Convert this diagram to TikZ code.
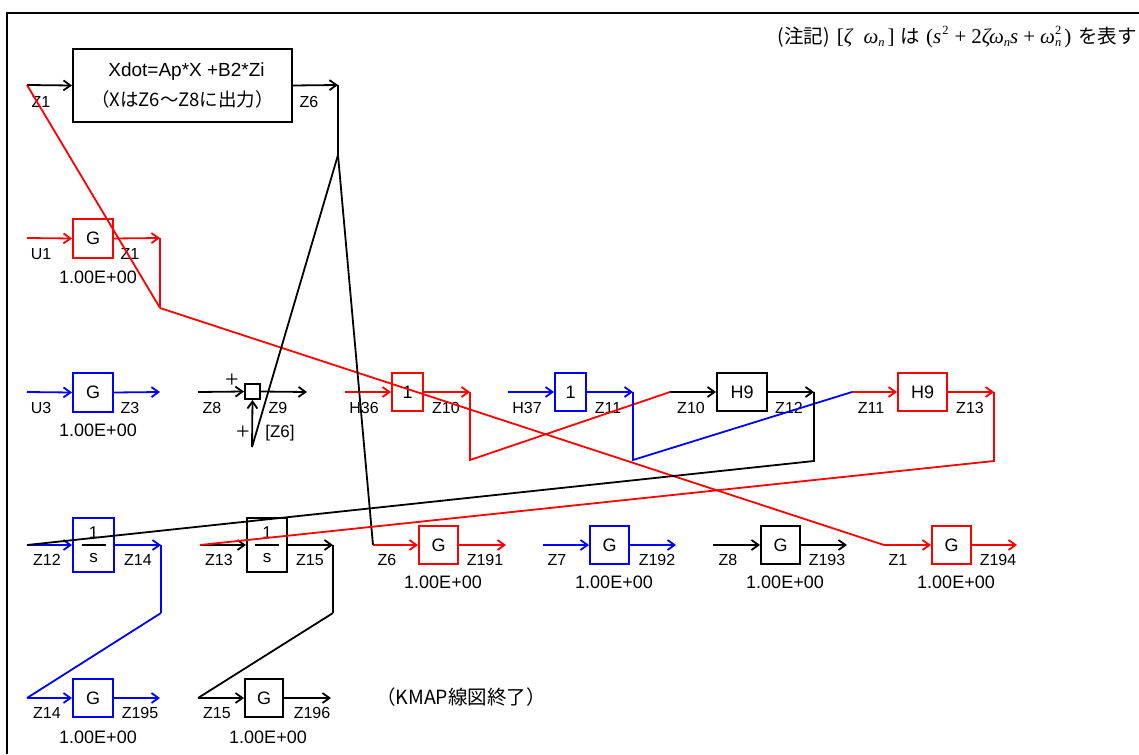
\documentclass[tikz,border=0pt]{standalone}
\usepackage{fontspec}
\setmainfont{Liberation Sans}
\newfontfamily\jp{Noto Sans CJK JP}
\newfontfamily\plusfont{Liberation Serif}
\usetikzlibrary{arrows.meta}
\definecolor{kr}{RGB}{255,0,0}
\definecolor{kb}{RGB}{0,0,255}
\newcommand{\subn}{\raisebox{-3.5pt}{\fontsize{12.5}{12.5}\selectfont\itshape n}}
\newcommand{\supt}{\raisebox{9pt}{\fontsize{12.5}{12.5}\selectfont 2}}
\begin{document}
\begin{tikzpicture}[x=1pt,y=-1pt,
  arr/.style={-{Straight Barb[length=7pt,width=10pt]}},
  conn/.style={line width=1.8pt},
  blk/.style={draw, line width=2pt, minimum width=40pt, minimum height=39pt, inner sep=0pt, font=\fontsize{18}{18}\selectfont},
  lbl/.style={font=\fontsize{16}{16}\selectfont, inner sep=0pt},
  val/.style={font=\fontsize{18}{18}\selectfont, inner sep=0pt},
  pls/.style={font=\plusfont\fontsize{24}{24}\selectfont, inner sep=0pt}]
\useasboundingbox (0,0) rectangle (1139,754);
% frame
\draw[line width=2pt] (7,754) -- (7,13) -- (1139,13);
% note
\node[anchor=east, font=\fontsize{19.5}{19.5}\selectfont, inner sep=0pt] (note) at (1137,37)
  {{\jp (注記)}\hspace{7pt}{\plusfont\fontsize{21}{21}\selectfont [\textit{ζ}\hspace{10pt}\textit{ω}\subn\hspace{3pt}]}\hspace{6pt}{\jp は}\hspace{6pt}%
   {\plusfont\fontsize{21}{21}\selectfont (\textit{s}\hspace{1pt}\supt\hspace{6pt}+\hspace{5pt}2\textit{ζω}\subn\textit{s}\hspace{5pt}+\hspace{5pt}\textit{ω}\makebox[0pt][l]{\subn}\supt\hspace{3pt})}\hspace{7pt}%
   {\jp を表す}};

% ---------- top block ----------
\node[draw, line width=2pt, minimum width=219pt, minimum height=73pt, align=center,
      font=\fontsize{19}{30}\selectfont] (xb) at (182.5,85.5)
  {\hspace*{8pt}Xdot=Ap*X +B2*Zi\\ {\jp\fontsize{18.5}{30}\selectfont （XはZ6〜Z8に出力）}};
\coordinate (xin) at (27,85);
\coordinate (xout) at (338,85);
\coordinate (xbr) at (338,155);
\draw[conn,arr] (xin) -- (xb.west);
\draw[conn,arr] (xb.east) -- (xout);
\draw[conn] (xout) -- (xbr);
\node[lbl] (l1) at (41,102) {Z1};
\node[lbl] (l2) at (309,102) {Z6};

% ---------- row 2 ----------
\node[blk, kr] (g1) at (93,238.5) {\color{black}G};
\coordinate (g1in) at (27,238);
\coordinate (g1out) at (160,238);
\coordinate (g1br) at (160,308);
\draw[conn,kr,arr] (g1in) -- (g1.west);
\draw[conn,kr,arr] (g1.east) -- (g1out);
\draw[conn,kr] (g1out) -- (g1br);
\node[lbl] (l3) at (41,254) {U1};
\node[lbl] (l4) at (130,254) {Z1};
\node[val] (v1) at (98,277) {1.00E+00};

% ---------- row 3 ----------
\node[blk, kb] (g3) at (93,392.5) {\color{black}G};
\coordinate (g3in) at (27,392);
\coordinate (g3out) at (160,392);
\draw[conn,kb,arr] (g3in) -- (g3.west);
\draw[conn,kb,arr] (g3.east) -- (g3out);
\node[lbl] (l5) at (41,408) {U3};
\node[lbl] (l6) at (130,408) {Z3};
\node[val] (v3) at (98,430) {1.00E+00};

% summing junction
\node[draw, line width=2pt, minimum size=15pt, inner sep=0pt] (sum) at (252.5,391.5) {};
\coordinate (z8in) at (198,392);
\coordinate (z9out) at (307,392);
\coordinate (z6s) at (252,447);
\draw[conn,arr] (z8in) -- (sum.west);
\draw[conn,arr] (sum.east) -- (z9out);
\draw[conn,arr] (z6s) -- (sum.south);
\node[pls] (p1) at (232,381) {+};
\node[pls] (p2) at (243,433) {+};
\node[lbl] (l7) at (212,408) {Z8};
\node[lbl] (l8) at (278,408) {Z9};
\node[lbl, font=\fontsize{17}{17}\selectfont] (l9) at (280,433) {[Z6]};

% gain 1 red
\node[blk, kr, minimum width=31pt, minimum height=38pt] (k1) at (407.5,392) {\color{black}1};
\coordinate (k1in) at (345,392);
\coordinate (k1out) at (470,392);
\coordinate (k1b) at (470,460);
\draw[conn,kr,arr] (k1in) -- (k1.west);
\draw[conn,kr,arr] (k1.east) -- (k1out);
\node[lbl] (l10) at (364,408) {H36};
\node[lbl] (l11) at (446,408) {Z10};

% gain 1 blue
\node[blk, kb, minimum width=31pt, minimum height=38pt] (k2) at (570.5,392) {\color{black}1};
\coordinate (k2in) at (508,392);
\coordinate (k2out) at (633,392);
\coordinate (k2b) at (633,460);
\draw[conn,kb,arr] (k2in) -- (k2.west);
\draw[conn,kb,arr] (k2.east) -- (k2out);
\node[lbl] (l12) at (527,408) {H37};
\node[lbl] (l13) at (608,408) {Z11};

% H9 black
\node[blk, minimum width=50pt, minimum height=38pt] (h1) at (742,392) {H9};
\coordinate (h1in) at (670,392);
\coordinate (h1out) at (814,392);
\coordinate (h1b) at (814,461);
\draw[conn,arr] (h1in) -- (h1.west);
\draw[conn,arr] (h1.east) -- (h1out);
\node[lbl] (l14) at (691,408) {Z10};
\node[lbl] (l15) at (789,408) {Z12};

% H9 red
\node[blk, kr, minimum width=49pt, minimum height=38pt] (h2) at (922.5,392) {\color{black}H9};
\coordinate (h2in) at (852,392);
\coordinate (h2out) at (994,392);
\coordinate (h2b) at (994,461);
\draw[conn,kr,arr] (h2in) -- (h2.west);
\draw[conn,kr,arr] (h2.east) -- (h2out);
\node[lbl] (l16) at (871,408) {Z11};
\node[lbl] (l17) at (970,408) {Z13};

% ---------- row 4 ----------
% 1/s blue
\node[blk, kb, minimum width=41pt, minimum height=54pt] (s1) at (93.5,545) {};
\node[lbl, font=\fontsize{17}{17}\selectfont] (s1n) at ([yshift=12pt]s1.center) {1};
\node[lbl, font=\fontsize{17}{17}\selectfont] (s1d) at ([yshift=-13pt]s1.center) {s};
\draw[line width=1.4pt] ([xshift=-12pt]s1.center) -- ([xshift=12pt]s1.center);
\coordinate (s1in) at (27,545);
\coordinate (s1out) at (161,545);
\coordinate (s1b) at (161,613);
\draw[conn,kb,arr] (s1in) -- (s1.west);
\draw[conn,kb,arr] (s1.east) -- (s1out);
\draw[conn,kb] (s1out) -- (s1b);
\node[lbl] (l18) at (47,560) {Z12};
\node[lbl] (l19) at (138,560) {Z14};

% 1/s black
\node[blk, minimum width=40pt, minimum height=54pt] (s2) at (267,545) {};
\node[lbl, font=\fontsize{17}{17}\selectfont] (s2n) at ([yshift=12pt]s2.center) {1};
\node[lbl, font=\fontsize{17}{17}\selectfont] (s2d) at ([yshift=-13pt]s2.center) {s};
\draw[line width=1.4pt] ([xshift=-12pt]s2.center) -- ([xshift=12pt]s2.center);
\coordinate (s2in) at (200,545);
\coordinate (s2out) at (333,545);
\coordinate (s2b) at (333,613);
\draw[conn,arr] (s2in) -- (s2.west);
\draw[conn,arr] (s2.east) -- (s2out);
\draw[conn] (s2out) -- (s2b);
\node[lbl] (l20) at (219,560) {Z13};
\node[lbl] (l21) at (310,560) {Z15};

% G red Z6
\node[blk, kr, minimum width=39pt, minimum height=38pt] (o1) at (438.5,545) {\color{black}G};
\coordinate (o1in) at (373,545);
\coordinate (o1out) at (506,545);
\draw[conn,kr,arr] (o1in) -- (o1.west);
\draw[conn,kr,arr] (o1.east) -- (o1out);
\node[lbl] (l22) at (387,560) {Z6};
\node[lbl] (l23) at (485,560) {Z191};
\node[val] (v4) at (443,582) {1.00E+00};

% G blue Z7
\node[blk, kb, minimum width=39pt, minimum height=38pt] (o2) at (609.5,545) {\color{black}G};
\coordinate (o2in) at (543,545);
\coordinate (o2out) at (676,545);
\draw[conn,kb,arr] (o2in) -- (o2.west);
\draw[conn,kb,arr] (o2.east) -- (o2out);
\node[lbl] (l24) at (557,560) {Z7};
\node[lbl] (l25) at (657,560) {Z192};
\node[val] (v5) at (614,582) {1.00E+00};

% G black Z8
\node[blk, minimum width=39pt, minimum height=38pt] (o3) at (780.5,545) {G};
\coordinate (o3in) at (713,545);
\coordinate (o3out) at (847,545);
\draw[conn,arr] (o3in) -- (o3.west);
\draw[conn,arr] (o3.east) -- (o3out);
\node[lbl] (l26) at (728,560) {Z8};
\node[lbl] (l27) at (827,560) {Z193};
\node[val] (v6) at (785,582) {1.00E+00};

% G red Z1
\node[blk, kr, minimum width=39pt, minimum height=38pt] (o4) at (951.5,545) {\color{black}G};
\coordinate (o4in) at (884,545);
\coordinate (o4out) at (1017,545);
\draw[conn,kr,arr] (o4in) -- (o4.west);
\draw[conn,kr,arr] (o4.east) -- (o4out);
\node[lbl] (l28) at (898,560) {Z1};
\node[lbl] (l29) at (998,560) {Z194};
\node[val] (v7) at (956,582) {1.00E+00};

% ---------- row 5 ----------
\node[blk, kb, minimum width=40pt, minimum height=38pt] (f1) at (93,698) {\color{black}G};
\coordinate (f1in) at (27,698);
\coordinate (f1out) at (160,698);
\draw[conn,kb,arr] (f1in) -- (f1.west);
\draw[conn,kb,arr] (f1.east) -- (f1out);
\node[lbl] (l30) at (47,713) {Z14};
\node[lbl] (l31) at (140,713) {Z195};
\node[val] (v8) at (98,737) {1.00E+00};

\node[blk, minimum width=38pt, minimum height=38pt] (f2) at (264,698) {G};
\coordinate (f2in) at (198,698);
\coordinate (f2out) at (331,698);
\draw[conn,arr] (f2in) -- (f2.west);
\draw[conn,arr] (f2.east) -- (f2out);
\node[lbl] (l32) at (217,713) {Z15};
\node[lbl] (l33) at (312,713) {Z196};
\node[val] (v9) at (268,737) {1.00E+00};

\node[font=\jp\fontsize{19.5}{19.5}\selectfont, inner sep=0pt] (endt) at (461,697) {（KMAP線図終了）};

% ---------- cross connections ----------
\draw[conn,kr] (g1br) -- (xin);
\draw[conn,kr] (g1br) -- (o4in);
\draw[conn] (xbr) -- (z6s);
\draw[conn] (xbr) -- (o1in);
\draw[conn,kr] (k1out) -- (k1b) -- (h1in);
\draw[conn,kb] (k2out) -- (k2b) -- (h2in);
\draw[conn] (h1out) -- (h1b) -- (s1in);
\draw[conn,kr] (h2out) -- (h2b) -- (s2in);
\draw[conn,kb] (s1b) -- (f1in);
\draw[conn] (s2b) -- (f2in);
\end{tikzpicture}
\end{document}
